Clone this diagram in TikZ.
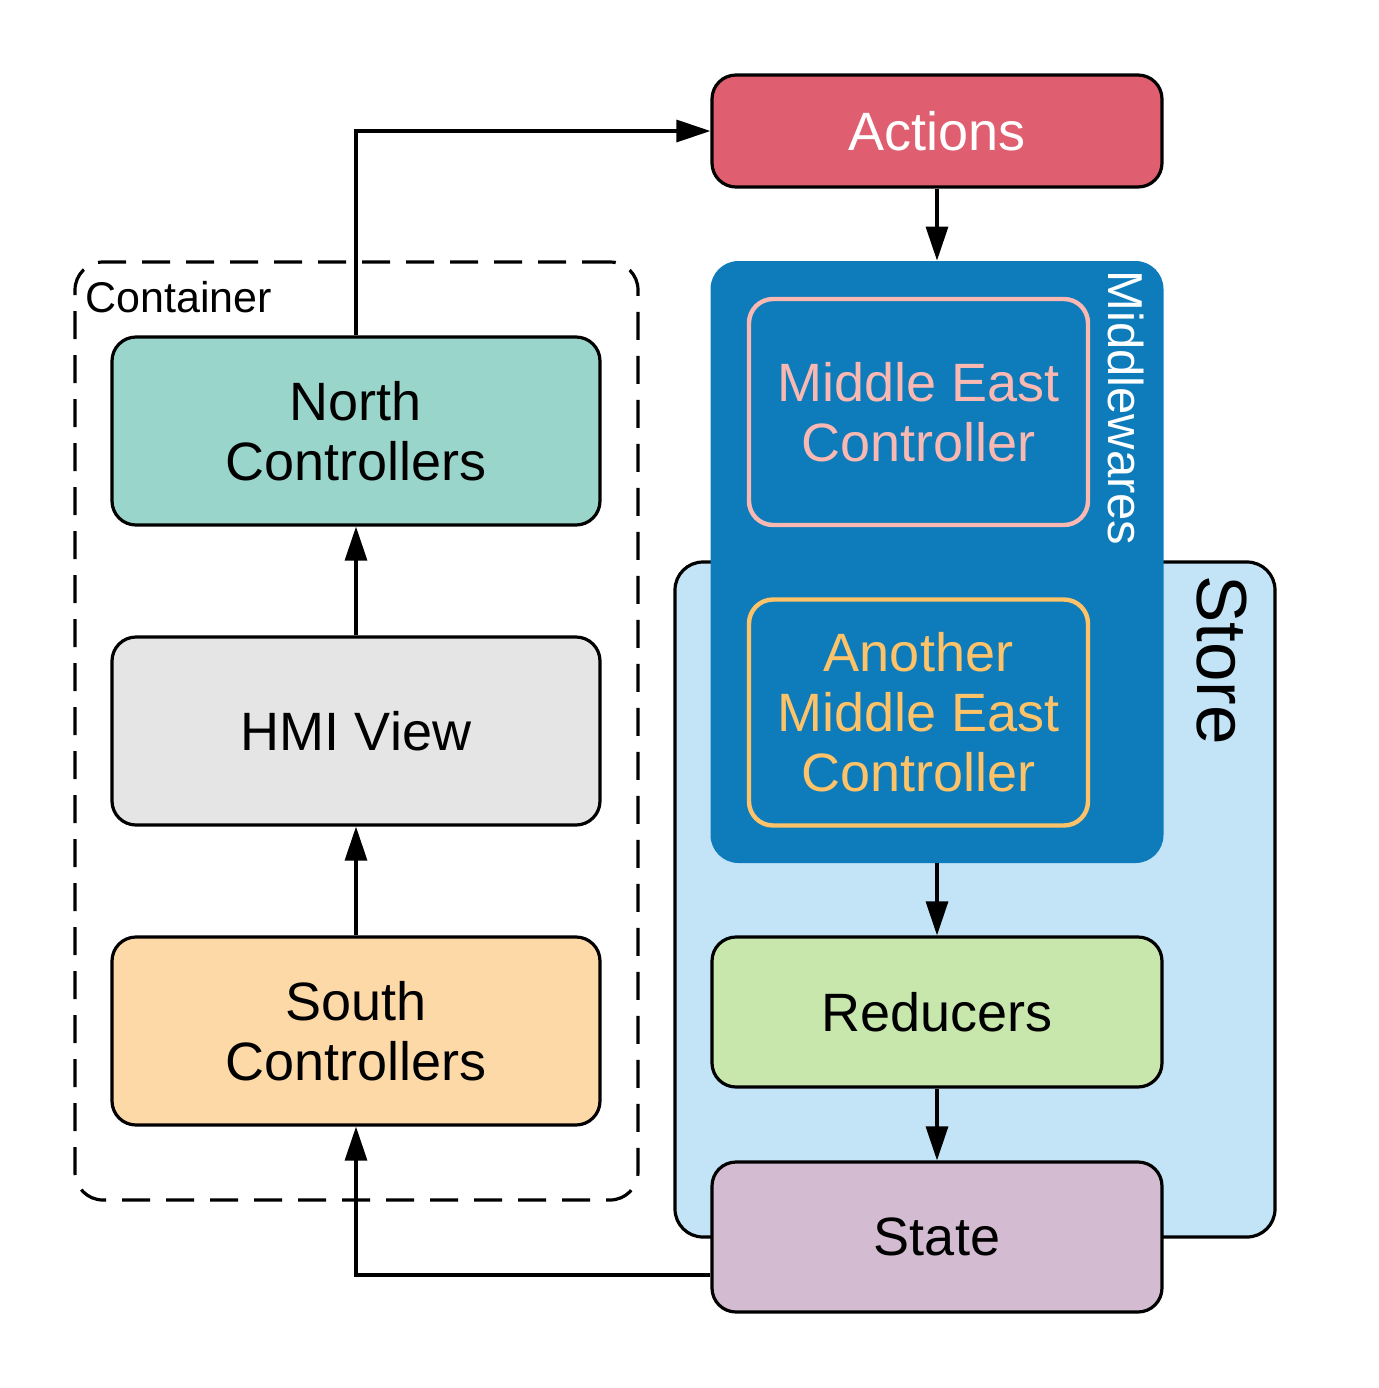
\documentclass[tikz,border=0pt]{standalone}
\usepackage{fontspec}
\setmainfont{Liberation Sans}
\usetikzlibrary{arrows.meta}
\definecolor{actred}{HTML}{DF5E6F}
\definecolor{mwblue}{HTML}{0E7BBB}
\definecolor{mepink}{HTML}{F9B9B2}
\definecolor{meorange}{HTML}{FEC368}
\definecolor{storeblue}{HTML}{C2E4F6}
\definecolor{redgreen}{HTML}{C7E7AC}
\definecolor{statepurple}{HTML}{D3BBD1}
\definecolor{northgreen}{HTML}{9AD5CB}
\definecolor{hmigray}{HTML}{E5E5E5}
\definecolor{southorange}{HTML}{FDD9A8}
\begin{document}
\begin{tikzpicture}[x=0.5pt, y=-0.5pt,
    box/.style={draw=black, line width=1.6pt, rounded corners=12pt, align=center, inner sep=0pt,
      font=\fontsize{27}{30}\selectfont},
    bigbox/.style={box, minimum width=225pt, minimum height=75pt},
    leftbox/.style={box, minimum width=244pt, minimum height=94pt},
    mebox/.style={box, line width=2.2pt, fill=mwblue, minimum width=169.5pt, minimum height=113pt},
    arr/.style={line width=1.6pt, -{Triangle[length=17pt, width=11pt]}}]
  \useasboundingbox (0,0) rectangle (1378,1388); % page frame

  % container
  \node[draw=black, line width=1.6pt, dashed, dash pattern=on 14pt off 8pt, rounded corners=14pt,
    minimum width=281.5pt, minimum height=469pt] (cont) at (356.5,731) {};
  \node[anchor=north west, inner sep=0pt, font=\fontsize{21.5}{24}\selectfont] (contlabel) at (85,281) {Container};
  \node[leftbox, fill=northgreen] (north) at (356,431) {North\\Controllers};
  \node[leftbox, fill=hmigray] (hmi) at (356,731) {HMI View};
  \node[leftbox, fill=southorange] (south) at (356,1031) {South\\Controllers};

  % store and middlewares
  \node[draw=black, line width=1.6pt, fill=storeblue, rounded corners=14pt,
    minimum width=300pt, minimum height=337.5pt] (store) at (975,899.5) {};
  \node[rotate=-90, inner sep=0pt, font=\fontsize{35.5}{38}\selectfont] (storelabel) at (1222,660) {Store};
  \node[fill=mwblue, rounded corners=14pt, minimum width=226.5pt, minimum height=301pt] (mw) at (937,562) {};
  \node[rotate=-90, inner sep=0pt, text=white, font=\fontsize{24.5}{27}\selectfont] (mwlabel) at (1126,408) {Middlewares};
  \node[mebox, draw=mepink, text=mepink] (mec) at (918.5,412) {Middle East\\Controller};
  \node[mebox, draw=meorange, text=meorange] (amec) at (918.5,712.5) {Another\\Middle East\\Controller};

  \node[bigbox, fill=actred, text=white, minimum height=56pt] (act) at (937,131) {Actions};
  \node[bigbox, fill=redgreen] (red) at (937,1012) {Reducers};
  \node[bigbox, fill=statepurple] (state) at (937,1237) {State};

  % arrows
  \draw[arr] (north.north) |- (act.west);
  \draw[arr] (act.south) -- (mw.north);
  \draw[arr] (mw.south) -- (red.north);
  \draw[arr] (red.south) -- (state.north);
  \draw[arr] (hmi.north) -- (north.south);
  \draw[arr] (south.north) -- (hmi.south);
  \draw[arr] ([yshift=-19pt]state.west) -| (south.south);
\end{tikzpicture}
\end{document}
